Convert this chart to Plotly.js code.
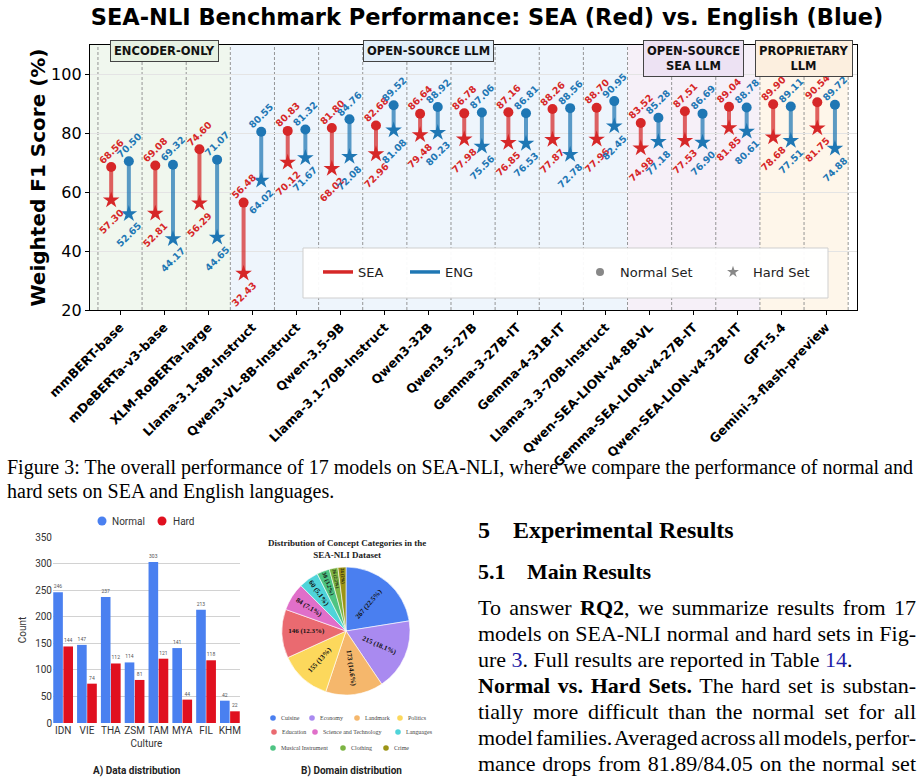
<!DOCTYPE html>
<html><head><meta charset="utf-8">
<script src="https://cdn.plot.ly/plotly-3.0.1.min.js"></script>
<style>
body{margin:0;background:#fff;}
#wrap{position:relative;width:923px;height:783px;overflow:hidden;background:#fff;}
#chart{position:absolute;left:0;top:0;width:923px;height:783px;}
.t{position:absolute;font-family:"Liberation Serif","Times New Roman",serif;color:#000;white-space:nowrap;z-index:5;}
.j{text-align:justify;text-align-last:justify;white-space:normal;}
.b{font-size:22px;line-height:26px;word-spacing:-4px;}
.lk{color:#1b1ba6;}
</style></head><body>
<div id="wrap"><div id="chart"></div>
<div class="t j" style="left:7px;top:455px;width:906px;font-size:20px;line-height:24px">Figure 3: The overall performance of 17 models on SEA-NLI, where we compare the performance of normal and</div>
<div class="t" style="left:7px;top:479px;font-size:20px;line-height:24px">hard sets on SEA and English languages.</div>
<div class="t" style="left:478px;top:516px;font-size:24px;line-height:28px;font-weight:bold">5</div>
<div class="t" style="left:513px;top:516px;font-size:24px;line-height:28px;font-weight:bold">Experimental Results</div>
<div class="t" style="left:478px;top:559px;font-size:22px;line-height:26px;font-weight:bold">5.1</div>
<div class="t" style="left:527px;top:559px;font-size:22px;line-height:26px;font-weight:bold">Main Results</div>
<div class="t j b" style="left:478px;top:595px;width:438px">To answer <b>RQ2</b>, we summarize results from 17</div>
<div class="t j b" style="left:478px;top:621px;width:438px">models on SEA-NLI normal and hard sets in Fig-</div>
<div class="t" style="left:478px;top:647px;font-size:22px;line-height:26px">ure <span class="lk">3</span>. Full results are reported in Table <span class="lk">14</span>.</div>
<div class="t j b" style="left:478px;top:673px;width:438px"><b>Normal vs. Hard Sets.</b> The hard set is substan-</div>
<div class="t j b" style="left:478px;top:699px;width:438px">tially more difficult than the normal set for all</div>
<div class="t j b" style="left:478px;top:725px;width:438px">model families. Averaged across all models, perfor-</div>
<div class="t j b" style="left:478px;top:751px;width:438px">mance drops from 81.89/84.05 on the normal set</div>
</div>
<script>
// ---------------- DATA ----------------
const models = ['mmBERT-base','mDeBERTa-v3-base','XLM-RoBERTa-large','Llama-3.1-8B-Instruct','Qwen3-VL-8B-Instruct','Qwen-3.5-9B','Llama-3.1-70B-Instruct','Qwen3-32B','Qwen3.5-27B','Gemma-3-27B-IT','Gemma-4-31B-IT','Llama-3.3-70B-Instruct','Qwen-SEA-LION-v4-8B-VL','Gemma-SEA-LION-v4-27B-IT','Qwen-SEA-LION-v4-32B-IT','GPT-5.4','Gemini-3-flash-preview'];
const seaNormal = [68.56,69.08,74.60,56.48,80.83,81.80,82.68,86.64,86.78,87.16,88.26,88.70,83.52,87.51,89.04,89.90,90.54];
const seaHard   = [57.30,52.81,56.29,32.43,70.12,68.02,72.96,79.48,77.98,76.85,77.87,77.96,74.98,77.53,81.85,78.68,81.75];
const engNormal = [70.50,69.32,71.07,80.55,81.32,84.76,89.52,88.92,87.06,86.81,88.56,90.95,85.28,86.69,88.78,89.11,89.72];
const engHard   = [52.65,44.17,44.65,64.02,71.67,72.08,81.08,80.23,75.56,76.53,72.78,82.45,77.18,76.90,80.61,77.51,74.88];
const groupLabels = ['ENCODER-ONLY','OPEN-SOURCE LLM','OPEN-SOURCE<br>SEA LLM','PROPRIETARY<br>LLM'];
const groupFirst = [0,3,12,15];
const groupLast  = [2,11,14,16];

const cultures = ['IDN','VIE','THA','ZSM','TAM','MYA','FIL','KHM'];
const normalCounts = [246,147,237,114,303,141,213,42];
const hardCounts   = [144,74,112,81,121,44,118,22];

const concepts = ['Cuisine','Economy','Landmark','Politics','Education','Science and Technology','Languages','Musical Instrument','Clothing','Crime'];
const conceptCounts = [267,215,173,155,146,84,60,38,26,24];

// ---------------- STYLE ----------------
const W = 923, H = 783;
const px = v => v / W, py = v => 1 - v / H;
const RED = '#d62728', BLUE = '#1f77b4';
const OFF = 0.2;
const XMIN = -0.68, XMAX = 16.7;
const shadeColors = ['#f0f7ee','#eef5fc','#f6f0f8','#fef6ea'];
const boxColors = ['#e6f1e2','#e2eef9','#ede2f3','#fcefdf'];
const conceptColors = ['#4a7ff0','#a98af0','#f5b76c','#fcd85c','#ea6a70','#e06fc9','#4fd4d9','#4ec483','#7cb443','#9c9416'];
const NORMAL_BAR = '#4a80f0', HARD_BAR = '#e0101f';

const idx = models.map((_, i) => i);
const traces = [];
const annotations = [];
const shapes = [];

// group shading + separators
groupFirst.forEach((f, g) => {
  shapes.push({type:'rect', xref:'x', yref:'y domain', x0: g === 0 ? XMIN : f - 0.5, x1: groupLast[g] + 0.5, y0:0, y1:1,
    fillcolor: shadeColors[g], line:{width:0}, layer:'below'});
});
for (let b = -0.5; b <= models.length - 0.5; b += 1) {
  shapes.push({type:'line', xref:'x', yref:'y domain', x0:b, x1:b, y0:0, y1:1,
    line:{color:'#8a8a8a', width:0.9, dash:'3px,2px'}, layer:'below'});
}

function dumbbell(normal, hard, off, color) {
  const lx = [], ly = [];
  normal.forEach((v, i) => { lx.push(i + off, i + off, null); ly.push(v, hard[i], null); });
  traces.push({type:'scatter', mode:'lines', x:lx, y:ly, line:{color, width:4}, opacity:0.72, showlegend:false, hoverinfo:'skip', xaxis:'x', yaxis:'y'});
  traces.push({type:'scatter', mode:'markers', x:idx.map(i => i + off), y:normal, marker:{symbol:'circle', size:10, color}, showlegend:false, xaxis:'x', yaxis:'y'});
  traces.push({type:'scatter', mode:'markers', x:idx.map(i => i + off), y:hard, marker:{symbol:'star', size:12.5, color}, showlegend:false, xaxis:'x', yaxis:'y'});
  const mk = (vals, shift) => vals.forEach((v, i) => annotations.push({
    x:i + off, y:v, xref:'x', yref:'y', text:v.toFixed(2), showarrow:false, textangle:-45,
    xanchor:'center', yanchor:'middle', yshift:shift,
    font:{family:'DejaVu Sans', size:9.5, color, weight:'bold'}}));
  mk(normal, 16); mk(hard, -21);
}
dumbbell(seaNormal, seaHard, -OFF, RED);
dumbbell(engNormal, engHard, OFF, BLUE);

// legend-only traces
traces.push({type:'scatter', mode:'lines', x:[null], y:[null], name:'SEA', line:{color:RED, width:3.5}, legend:'legend', xaxis:'x', yaxis:'y'});
traces.push({type:'scatter', mode:'lines', x:[null], y:[null], name:'ENG', line:{color:BLUE, width:3.5}, legend:'legend2', xaxis:'x', yaxis:'y'});
traces.push({type:'scatter', mode:'markers', x:[null], y:[null], name:'Normal Set', marker:{symbol:'circle', color:'#888', size:8}, legend:'legend3', xaxis:'x', yaxis:'y'});
traces.push({type:'scatter', mode:'markers', x:[null], y:[null], name:'Hard Set', marker:{symbol:'star', color:'#888', size:9}, legend:'legend4', xaxis:'x', yaxis:'y'});

// group label boxes
groupLabels.forEach((lab, g) => annotations.push({
  x:(groupFirst[g] + groupLast[g]) / 2, xref:'x', y:py(40), yref:'paper', yanchor:'top', xanchor:'center',
  text:lab, showarrow:false, bgcolor:boxColors[g], bordercolor:'#444', borderwidth:1, borderpad:3,
  font:{family:'DejaVu Sans', size:11.5, weight:'bold', color:'#111'}}));

// legend box
shapes.push({type:'rect', xref:'paper', yref:'paper', x0:px(303), x1:px(828), y0:py(298), y1:py(248),
  fillcolor:'rgba(255,255,255,0.95)', line:{color:'#cfcfcf', width:1}, layer:'above'});

// ---------------- BAR CHART (A) ----------------
traces.push({type:'bar', name:'Normal', x:cultures, y:normalCounts, marker:{color:NORMAL_BAR}, text:normalCounts.map(String),
  textposition:'outside', textfont:{family:'Roboto', size:5, color:'#555'}, cliponaxis:false, xaxis:'x2', yaxis:'y2', showlegend:false});
traces.push({type:'bar', name:'Hard', x:cultures, y:hardCounts, marker:{color:HARD_BAR}, text:hardCounts.map(String),
  textposition:'outside', textfont:{family:'Roboto', size:5, color:'#555'}, cliponaxis:false, xaxis:'x2', yaxis:'y2', showlegend:false});
[['Normal', NORMAL_BAR, 102, 110], ['Hard', HARD_BAR, 162, 171]].forEach(([n, c, cx, tx]) => {
  shapes.push({type:'circle', xref:'paper', yref:'paper', x0:px(cx - 4.5), x1:px(cx + 4.5), y0:py(521 + 4.5), y1:py(521 - 4.5), fillcolor:c, line:{width:0}});
  annotations.push({x:px(tx), y:py(521), xref:'paper', yref:'paper', xanchor:'left', yanchor:'middle', showarrow:false, text:n,
    font:{family:'Roboto', size:10, color:'#333'}});
});
annotations.push({x:px(137), y:py(771), xref:'paper', yref:'paper', xanchor:'center', yanchor:'middle', showarrow:false, text:'A) Data distribution',
  font:{family:'Roboto', size:10, weight:'bold', color:'#222'}});

// ---------------- PIE CHART (B) ----------------
const total = conceptCounts.reduce((a, b) => a + b, 0);
const pieText = conceptCounts.map(v => { let s = (v / total * 100).toFixed(1); if (s.endsWith('.0')) s = s.slice(0, -2); return v + ' (' + s + '%)'; });
traces.push({type:'pie', labels:concepts, values:conceptCounts, sort:false, direction:'clockwise', rotation:0,
  domain:{x:[px(282), px(410)], y:[py(695), py(567)]},
  marker:{colors:conceptColors, line:{color:'#ffffff', width:0.6}},
  text:pieText, textinfo:'text', textposition:'inside', insidetextorientation:'radial',
  textfont:{family:'Liberation Serif', size:7, color:'#111', weight:'bold'}, showlegend:false, hoverinfo:'label+value'});
annotations.push({x:px(347), y:py(549), xref:'paper', yref:'paper', xanchor:'center', yanchor:'middle', showarrow:false,
  text:'Distribution of Concept Categories in the<br>SEA-NLI Dataset',
  font:{family:'Liberation Serif', size:9, weight:'bold', color:'#222'}});
const pieLegendPos = [[273,718],[312,718],[357,718],[400,718],[274,732],[315,732],[398,732],[273,748],[343,748],[386,748]];
concepts.forEach((c, i) => {
  const [cx, cy] = pieLegendPos[i];
  shapes.push({type:'circle', xref:'paper', yref:'paper', x0:px(cx - 2.8), x1:px(cx + 2.8), y0:py(cy + 2.8), y1:py(cy - 2.8), fillcolor:conceptColors[i], line:{width:0}});
  annotations.push({x:px(cx + 6), y:py(cy), xref:'paper', yref:'paper', xanchor:'left', yanchor:'middle', showarrow:false, text:c,
    font:{family:'Liberation Serif', size:6, color:'#444'}});
});
annotations.push({x:px(351), y:py(771), xref:'paper', yref:'paper', xanchor:'center', yanchor:'middle', showarrow:false, text:'B) Domain distribution',
  font:{family:'Roboto', size:10, weight:'bold', color:'#222'}});

// ---------------- LAYOUT ----------------
const legendBase = {orientation:'h', xanchor:'left', yanchor:'middle', y:py(272), bgcolor:'rgba(0,0,0,0)', borderwidth:0,
  font:{family:'DejaVu Sans', size:13, color:'#222'}};
const layout = {
  width:W, height:H, margin:{l:0, r:0, t:0, b:0}, paper_bgcolor:'#fff', plot_bgcolor:'#fff',
  font:{family:'DejaVu Sans', color:'#000'},
  title:{text:'SEA-NLI Benchmark Performance: SEA (Red) vs. English (Blue)', x:px(487), xanchor:'center', xref:'paper',
    y:py(17), yanchor:'middle', yref:'paper', font:{family:'DejaVu Sans', size:22.5, weight:'bold', color:'#000'}},
  xaxis:{domain:[px(90), px(857)], anchor:'y', range:[XMIN, XMAX], tickmode:'array', tickvals:idx, ticktext:models, tickangle:-45,
    tickfont:{family:'DejaVu Sans', size:12.5, weight:'bold', color:'#000'}, ticks:'outside', ticklen:4, tickcolor:'#000',
    showline:true, linecolor:'#000', linewidth:1.2, mirror:true, showgrid:false, zeroline:false},
  yaxis:{domain:[py(310), py(45)], anchor:'x', range:[20, 110], tickvals:[20,40,60,80,100],
    tickfont:{family:'DejaVu Sans', size:16, color:'#000'}, ticks:'outside', ticklen:4, tickcolor:'#000',
    showline:true, linecolor:'#000', linewidth:1.2, mirror:true, gridcolor:'#e4e4e4', zeroline:false,
    title:{text:'Weighted F1 Score (%)', font:{family:'DejaVu Sans', size:20, weight:'bold', color:'#000'}, standoff:0}},
  xaxis2:{domain:[px(53), px(240)], anchor:'y2', type:'category', range:[-0.425, 7.425],
    tickfont:{family:'Roboto', size:10, color:'#333'}, ticks:'', showgrid:false, showline:false, zeroline:false,
    title:{text:'Culture', font:{family:'Roboto', size:10, color:'#333'}, standoff:4}},
  yaxis2:{domain:[py(723), py(537)], anchor:'x2', range:[0, 350], dtick:50, ticks:'',
    tickfont:{family:'Roboto', size:10, color:'#333'}, gridcolor:'#d2d2d2', zeroline:false, showline:false,
    title:{text:'Count', font:{family:'Roboto', size:10, color:'#333'}, standoff:6}},
  barmode:'group', bargap:0.15, bargroupgap:0.05,
  legend:Object.assign({}, legendBase, {x:px(318)}),
  legend2:Object.assign({}, legendBase, {x:px(405)}),
  legend3:Object.assign({}, legendBase, {x:px(580)}),
  legend4:Object.assign({}, legendBase, {x:px(713)}),
  shapes, annotations, showlegend:true
};
Plotly.newPlot('chart', traces, layout, {staticPlot:true, displayModeBar:false});
</script>
</body></html>
